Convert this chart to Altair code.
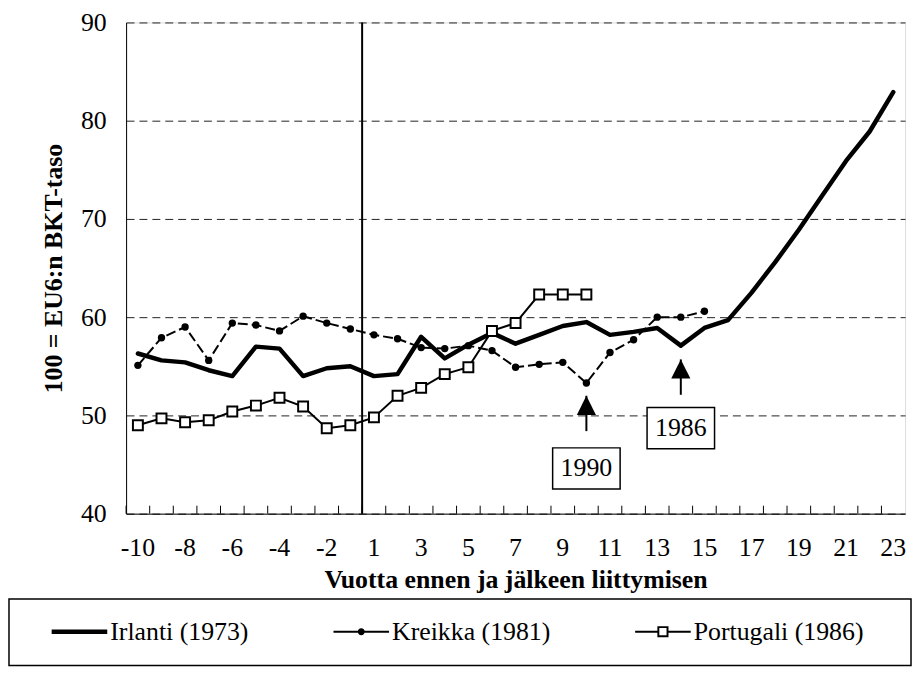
import altair as alt
import pandas as pd

FONT = "'Liberation Serif', 'Times New Roman', Times, serif"

# ---- data ----
years = [-10, -9, -8, -7, -6, -5, -4, -3, -2, -1,
         1, 2, 3, 4, 5, 6, 7, 8, 9, 10, 11, 12, 13, 14, 15, 16, 17, 18, 19, 20, 21, 22, 23]

series_names = ["Irlanti (1973)", "Kreikka (1981)", "Portugali (1986)"]

irlanti = [56.3, 55.6, 55.4, 54.6, 54.0, 57.0, 56.8, 54.0, 54.8, 55.0,
           54.0, 54.2, 58.0, 55.8, 57.2, 58.4, 57.3, 58.2, 59.1, 59.5,
           58.2, 58.5, 58.9, 57.1, 58.9, 59.7, 62.5, 65.6, 68.9, 72.4,
           75.9, 78.9, 82.9]

kreikka = [55.1, 57.9, 59.0, 55.6, 59.4, 59.2, 58.6, 60.1, 59.4, 58.8,
           58.2, 57.8, 56.9, 56.8, 57.1, 56.6, 54.9, 55.2, 55.4, 53.3,
           56.4, 57.7, 60.0, 60.0, 60.6]

portugali = [49.0, 49.7, 49.3, 49.5, 50.4, 51.0, 51.8, 50.9, 48.7, 49.0,
             49.8, 52.0, 52.8, 54.2, 54.9, 58.6, 59.4, 62.3, 62.3, 62.3]

accession_year = [1]

ann_labels = ["1990", "1986"]
ann_years = [10, 14]
ann_tip = [52.0, 55.7]
ann_tail = [48.4, 52.1]
ann_box = [44.6, 48.7]

y_ticks = [40, 50, 60, 70, 80, 90]

# ---- tables built from the lists ----
irl_df = pd.DataFrame({"year": years[:len(irlanti)], "value": irlanti})
kre_df = pd.DataFrame({"year": years[:len(kreikka)], "value": kreikka})
por_df = pd.DataFrame({"year": years[:len(portugali)], "value": portugali})
years_df = pd.DataFrame({"year": years})
acc_df = pd.DataFrame({"year": accession_year})
ann_df = pd.DataFrame({"label": ann_labels, "year": ann_years,
                       "tip": ann_tip, "tail": ann_tail, "box": ann_box})
legend_df = pd.DataFrame({"series": series_names})
frame_df = pd.DataFrame({"k": [0]})

# ---- shared scales / axes ----
x_scale = alt.Scale(type="band", domain=years, paddingInner=0, paddingOuter=0)
x_axis = alt.Axis(
    title="Vuotta ennen ja jälkeen liittymisen",
    labelExpr="(datum.value < 0 ? datum.value % 2 == 0 : datum.value % 2 == 1) ? datum.label : ''",
    labelAngle=0, labelOverlap=False, ticks=False, tickSize=0, labelPadding=21,
    labelFont=FONT, labelFontSize=26, labelColor="black",
    titleFont=FONT, titleFontSize=26, titleFontWeight="bold", titleColor="black",
    titlePadding=6, domainColor="black", domainWidth=1, grid=False,
)
y_scale = alt.Scale(domain=[40, 90], nice=False, zero=False)
y_axis = alt.Axis(
    title="100 = EU6:n BKT-taso", values=y_ticks,
    grid=True, gridColor="#222222", gridDash=[8, 5], gridWidth=1,
    ticks=False, tickSize=0, labelPadding=20,
    labelFont=FONT, labelFontSize=26, labelColor="black",
    titleFont=FONT, titleFontSize=26, titleFontWeight="bold", titleColor="black",
    titlePadding=14, domainColor="black", domainWidth=1,
)


def X(band=None):
    if band is None:
        return alt.X("year:O", scale=x_scale, axis=x_axis)
    return alt.X("year:O", scale=x_scale, axis=x_axis, bandPosition=band)


def Y(field):
    return alt.Y(f"{field}:Q", scale=y_scale, axis=y_axis)


# ---- layers ----
ticks = alt.Chart(years_df).mark_rule(color="black", strokeWidth=1).encode(
    x=X(0), y=alt.value(487), y2=alt.value(495))

vline = alt.Chart(acc_df).mark_rule(color="black", strokeWidth=2).encode(x=X(0))

irl_line = alt.Chart(irl_df).mark_line(
    color="black", strokeWidth=4.5, strokeJoin="round", strokeCap="round"
).encode(x=X(), y=Y("value"))

kre_line = alt.Chart(kre_df).mark_line(
    color="black", strokeWidth=2, strokeDash=[10, 4]
).encode(x=X(), y=Y("value"))
kre_pts = alt.Chart(kre_df).mark_point(
    shape="circle", filled=True, color="black", size=55, opacity=1
).encode(x=X(), y=Y("value"))

por_line = alt.Chart(por_df).mark_line(color="black", strokeWidth=2).encode(
    x=X(), y=Y("value"))
por_pts = alt.Chart(por_df).mark_point(
    shape="square", filled=True, fill="white", stroke="black", strokeWidth=2,
    size=100, opacity=1
).encode(x=X(), y=Y("value"))

TRI = "M0,0L0.5,1L-0.5,1Z"
BOX = "M-1,-0.61L1,-0.61L1,0.61L-1,0.61Z"

ann_shaft = alt.Chart(ann_df).mark_rule(color="black", strokeWidth=2).encode(
    x=X(), y=Y("tip"), y2="tail:Q")
ann_head = alt.Chart(ann_df).mark_point(
    shape=TRI, size=1490, filled=True, color="black", opacity=1
).encode(x=X(), y=Y("tip"))
ann_box_mark = alt.Chart(ann_df).mark_point(
    shape=BOX, size=4624, filled=True, fill="white", stroke="black",
    strokeWidth=1.5, opacity=1
).encode(x=X(), y=Y("box"))
ann_text = alt.Chart(ann_df).mark_text(
    font=FONT, fontSize=26, color="black", baseline="middle", align="center"
).encode(x=X(), y=Y("box"), text="label:N")

# legend symbols as custom paths (unit = 28 px)
IRL_SYM = "M-1,-0.08H1V0.08H-1Z"
KRE_SYM = ("M-1,-0.036H1V0.036H-1Z"
           "M0.125,0A0.125,0.125,0,1,1,-0.125,0A0.125,0.125,0,1,1,0.125,0Z")
POR_SYM = ("M-1,-0.036H-0.2V0.036H-1Z"
           "M0.2,-0.036H1V0.036H0.2Z"
           "M-0.2,-0.2H0.2V0.2H-0.2Z"
           "M-0.13,-0.13V0.13H0.13V-0.13Z")

legend_layer = alt.Chart(legend_df).transform_filter("false").mark_point(
    filled=True, color="black", opacity=1
).encode(
    shape=alt.Shape(
        "series:N",
        scale=alt.Scale(domain=series_names, range=[IRL_SYM, KRE_SYM, POR_SYM]),
        legend=alt.Legend(
            title=None, orient="none", legendX=-75, legendY=586,
            direction="horizontal", columns=3, gridAlign="each",
            columnPadding=85, padding=0, symbolSize=3136,
            symbolFillColor="black", symbolStrokeWidth=0, symbolOpacity=1,
            labelFont=FONT, labelFontSize=26, labelColor="black",
            labelOffset=3, labelLimit=0,
        ),
    )
)

frame = alt.Chart(frame_df).mark_rect(
    fillOpacity=0, stroke="black", strokeWidth=1.5
).encode(x=alt.value(-118), x2=alt.value(791), y=alt.value(581), y2=alt.value(648))

chart = alt.layer(
    vline, ticks, irl_line, kre_line, kre_pts, por_line, por_pts,
    ann_shaft, ann_head, ann_box_mark, ann_text, legend_layer, frame
).properties(
    width=785, height=495,
    autosize=alt.AutoSizeParams(type="none"),
    padding={"left": 119, "top": 12, "right": 7, "bottom": 155},
).configure_view(
    stroke="#808080", strokeWidth=1
).configure(
    font=FONT, background="white"
)

chart.save("out.html", embed_options={"renderer": "svg", "actions": False})
